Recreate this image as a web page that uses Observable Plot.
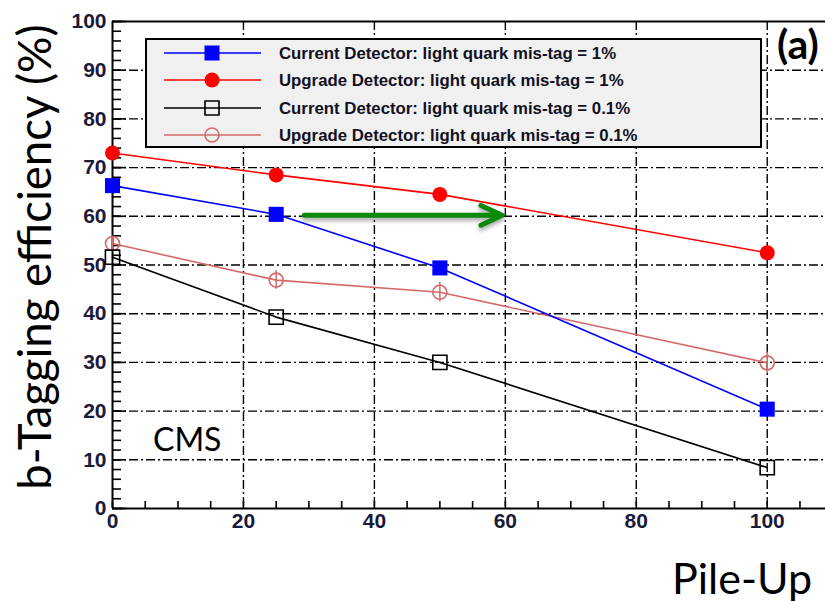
<!DOCTYPE html>
<html><head><meta charset="utf-8">
<script src="https://cdn.jsdelivr.net/npm/d3@7"></script>
<script src="https://cdn.jsdelivr.net/npm/@observablehq/plot@0.6"></script>
<style>
html,body{margin:0;padding:0;background:#fff;}
#chart{position:relative;width:825px;height:602px;overflow:hidden;}
</style></head><body><div id="chart"></div>
<script>
// ---- data ----
const pileUp = [0, 25, 50, 100];
const seriesNames = [
  "Current Detector: light quark mis-tag = 1%",
  "Upgrade Detector: light quark mis-tag = 1%",
  "Current Detector: light quark mis-tag = 0.1%",
  "Upgrade Detector: light quark mis-tag = 0.1%"
];
const current1 = [66.3, 60.4, 49.4, 20.4];
const upgrade1 = [73.0, 68.5, 64.5, 52.5];
const current01 = [51.6, 39.3, 30.0, 8.4];
const upgrade01 = [54.4, 46.9, 44.4, 29.9];
const upgrade01Err = [1.5, 1.9, 2.0, 2.2];
const xTicks = [0, 20, 40, 60, 80, 100];
const yTicks = [0, 10, 20, 30, 40, 50, 60, 70, 80, 90, 100];
const xMinor = d3.range(0, 110, 5);
const yMinor = d3.range(0, 101, 2);
const arrowX = [29.3, 59.5];
const arrowY = [60.2];

// ---- styles ----
const colors = ["#0000ff", "#ff0000", "#000000", "#d46a6a"];
const W = 825, H = 602;
const mL = 112, mT = 21, mB = 94;
const pw = W - mL, ph = H - mT - mB;

const rows = (vals, err) => pileUp.map((x, i) => ({x, y: vals[i], e: err ? err[i] : 0}));
const dC1 = rows(current1), dU1 = rows(upgrade1), dC01 = rows(current01), dU01 = rows(upgrade01, upgrade01Err);

const gridStyle = {stroke: "#000", strokeOpacity: 1, strokeWidth: 1.4, strokeDasharray: "9,3,2,3"};
const labelFont = {fontSize: 21, fontWeight: "bold", fontFamily: "Liberation Sans, Arial, sans-serif", fill: "#1a1a3a"};

const plot = Plot.plot({
  width: W, height: H,
  marginLeft: mL, marginRight: 0, marginTop: mT, marginBottom: mB,
  x: {domain: [0, 108.9]},
  y: {domain: [0, 100]},
  style: {background: "transparent", overflow: "visible"},
  marks: [
    Plot.gridX(xTicks.slice(1), gridStyle),
    Plot.gridY(yTicks.slice(1, -1), gridStyle),
    // inward tick marks
    Plot.ruleX(xMinor, {stroke: "#000", strokeWidth: 1.6, insetTop: ph - 7}),
    Plot.ruleY(yMinor, {stroke: "#000", strokeWidth: 1.6, insetRight: pw - 9}),
    Plot.ruleY(yTicks, {stroke: "#000", strokeWidth: 1.6, insetRight: pw - 14}),
    Plot.axisX(xTicks, {tickSize: 0, tickPadding: 5, label: null, ...labelFont}),
    Plot.axisY(yTicks, {tickSize: 0, tickPadding: 6, label: null, ...labelFont}),
    Plot.ruleY([0, 100], {stroke: "#000", strokeWidth: 2}),
    Plot.ruleX([0], {stroke: "#000", strokeWidth: 2}),
    Plot.line(dU01, {x: "x", y: "y", stroke: colors[3], strokeWidth: 1.6}),
    Plot.line(dC01, {x: "x", y: "y", stroke: colors[2], strokeWidth: 1.6}),
    Plot.line(dU1, {x: "x", y: "y", stroke: colors[1], strokeWidth: 1.6}),
    Plot.line(dC1, {x: "x", y: "y", stroke: colors[0], strokeWidth: 1.6}),
    Plot.ruleX(dU01, {x: "x", y1: d => d.y - d.e, y2: d => d.y + d.e, stroke: colors[3], strokeWidth: 1.5}),
    Plot.dot(dU01, {x: "x", y: "y", r: 7, stroke: colors[3], fill: "none", strokeWidth: 1.6}),
    Plot.dot(dC01, {x: "x", y: "y", r: 8, symbol: "square", stroke: colors[2], fill: "none", strokeWidth: 1.6}),
    Plot.dot(dU1, {x: "x", y: "y", r: 7.5, fill: colors[1]}),
    Plot.dot(dC1, {x: "x", y: "y", r: 8.5, symbol: "square", fill: colors[0]}),
    Plot.arrow([{x1: arrowX[0], x2: arrowX[1], y: arrowY[0]}], {
      x1: "x1", x2: "x2", y1: "y", y2: "y",
      stroke: "#0c880c", strokeWidth: 5, headLength: 7, headAngle: 50
    })
  ]
});
document.getElementById("chart").appendChild(plot);

const svg = d3.select(plot);
svg.selectAll('g[aria-label="arrow"]').style("filter", "drop-shadow(0px 3px 2px rgba(0,0,0,0.35))");

// legend
const lg = svg.append("g").attr("text-anchor", "start");
lg.append("rect").attr("x", 146).attr("y", 39).attr("width", 615).attr("height", 108)
  .attr("fill", "#f0f0f0").attr("stroke", "#000").attr("stroke-width", 2);
const rowY = [53, 80, 108, 135];
const sym = [
  {t: d3.symbolSquare, size: 15 * 15, fill: colors[0], stroke: "none"},
  {t: d3.symbolCircle, size: Math.PI * 7.5 * 7.5, fill: colors[1], stroke: "none"},
  {t: d3.symbolSquare, size: 14 * 14, fill: "none", stroke: colors[2]},
  {t: d3.symbolCircle, size: Math.PI * 7 * 7, fill: "none", stroke: colors[3]}
];
seriesNames.forEach((name, i) => {
  lg.append("line").attr("x1", 164).attr("x2", 261).attr("y1", rowY[i]).attr("y2", rowY[i])
    .attr("stroke", colors[i]).attr("stroke-width", 1.6);
  lg.append("path").attr("d", d3.symbol(sym[i].t, sym[i].size)())
    .attr("transform", `translate(212,${rowY[i]})`)
    .attr("fill", sym[i].fill).attr("stroke", sym[i].stroke).attr("stroke-width", 1.6);
  lg.append("text").attr("x", 279).attr("y", rowY[i]).attr("dy", "0.36em")
    .attr("text-anchor", "start")
    .attr("font-family", "Liberation Sans, Arial, sans-serif").attr("font-weight", "bold")
    .attr("font-size", 16.8).attr("fill", "#111122").text(name);
});

// texts
svg.append("text").attr("transform", "translate(51,257) rotate(-90)").attr("text-anchor", "middle")
  .attr("font-family", "Lato, sans-serif").attr("font-size", 45.5).attr("fill", "#000")
  .text("b-Tagging efficiency (%)");
svg.append("text").attr("x", 812).attr("y", 594).attr("text-anchor", "end")
  .attr("font-family", "Lato, sans-serif").attr("font-size", 43).attr("fill", "#000")
  .text("Pile-Up");
svg.append("text").attr("x", 153).attr("y", 451).attr("text-anchor", "start")
  .attr("font-family", "Lato, sans-serif").attr("font-size", 32).attr("fill", "#000")
  .text("CMS");
svg.append("text").attr("x", 777).attr("y", 59).attr("text-anchor", "start")
  .attr("font-family", "Lato, sans-serif").attr("font-weight", "bold").attr("font-size", 41).attr("fill", "#000")
  .text("(a)");
</script></body></html>
